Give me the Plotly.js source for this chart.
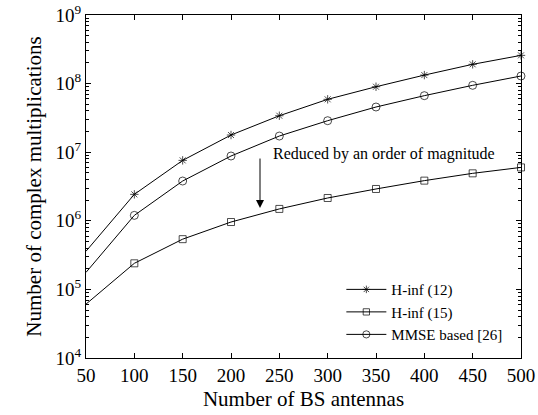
<!DOCTYPE html>
<html>
<head>
<meta charset="utf-8">
<script src="https://cdn.plot.ly/plotly-3.0.1.min.js"></script>
<style>html,body{margin:0;padding:0;background:#fff;}#chart{width:538px;height:415px;}</style>
</head>
<body>
<div id="chart"></div>
<script>
var antennas = [50, 100, 150, 200, 250, 300, 350, 400, 450, 500];
var hinf12 = [3.6e5, 2.43e6, 7.6e6, 1.78e7, 3.4e7, 5.9e7, 9.0e7, 1.33e8, 1.91e8, 2.58e8];
var hinf15 = [6.1e4, 2.4e5, 5.4e5, 9.6e5, 1.49e6, 2.15e6, 2.91e6, 3.85e6, 4.92e6, 6.0e6];
var mmse = [1.77e5, 1.2e6, 3.8e6, 8.8e6, 1.72e7, 2.88e7, 4.56e7, 6.67e7, 9.44e7, 1.29e8];
var seriesNames = ['H-inf (12)', 'H-inf (15)', 'MMSE based [26]'];
var xTicks = [50, 100, 150, 200, 250, 300, 350, 400, 450, 500];
var yTicks = [1e4, 1e5, 1e6, 1e7, 1e8, 1e9];
var yTickText = ['10<sup>4</sup>', '10<sup>5</sup>', '10<sup>6</sup>', '10<sup>7</sup>', '10<sup>8</sup>', '10<sup>9</sup>'];

var font = '"Liberation Serif", serif';
function sizes(n, s) { var a = []; for (var i = 0; i < n; i++) a.push(i === 0 ? 0 : s); return a; }

function tr(y, name, symbol, size) {
  return {
    x: antennas, y: y, name: name, type: 'scatter', mode: 'lines+markers',
    line: {color: '#000', width: 1},
    marker: {symbol: symbol, size: sizes(antennas.length, size), color: '#000', line: {color: '#000', width: 1}},
    cliponaxis: false
  };
}

var data = [
  tr(hinf12, seriesNames[0], 'asterisk-open', 7),
  tr(hinf15, seriesNames[1], 'square-open', 7),
  tr(mmse, seriesNames[2], 'circle-open', 8)
];

var layout = {
  width: 538, height: 415,
  margin: {l: 86, r: 17, t: 15, b: 57},
  paper_bgcolor: '#fff', plot_bgcolor: '#fff',
  font: {family: font, color: '#000', size: 19},
  showlegend: true,
  legend: {x: 0.587, y: 0.02, xanchor: 'left', yanchor: 'bottom', bgcolor: 'rgba(0,0,0,0)',
           font: {family: font, size: 15, color: '#000'}, itemwidth: 40, tracegroupgap: 0},
  xaxis: {
    range: [50, 500], tickvals: xTicks, ticktext: xTicks.map(String),
    ticks: 'inside', ticklen: 5, tickcolor: '#000', showline: true, linecolor: '#000', linewidth: 1,
    mirror: 'ticks', showgrid: false, zeroline: false, automargin: false,
    tickfont: {family: font, size: 19},
    title: {text: 'Number of BS antennas', font: {family: font, size: 21}, standoff: 6}
  },
  yaxis: {
    type: 'log', range: [4, 9], tickvals: yTicks, ticktext: yTickText,
    ticks: 'inside', ticklen: 5, tickcolor: '#000', showline: true, linecolor: '#000', linewidth: 1,
    mirror: 'ticks', showgrid: false, zeroline: false, automargin: false,
    tickfont: {family: font, size: 19},
    minor: {ticks: 'inside', ticklen: 3, tickcolor: '#000', dtick: 'D1', showgrid: false},
    title: {text: 'Number of complex multiplications', font: {family: font, size: 21}, standoff: 8}
  },
  annotations: [
    {x: 230, y: Math.log10(1.54e6), ax: 230, ay: Math.log10(8.5e6), axref: 'x', ayref: 'y',
     xref: 'x', yref: 'y', showarrow: true, arrowhead: 2, arrowsize: 1.6, arrowwidth: 1, arrowcolor: '#000', text: ''},
    {x: 241, y: Math.log10(9.3e6), xref: 'x', yref: 'y', xanchor: 'left', yanchor: 'middle', showarrow: false,
     text: 'Reduced by an order of magnitude', font: {family: font, size: 16, color: '#000'}}
  ]
};

Plotly.newPlot('chart', data, layout, {displayModeBar: false, staticPlot: true});
</script>
</body>
</html>
